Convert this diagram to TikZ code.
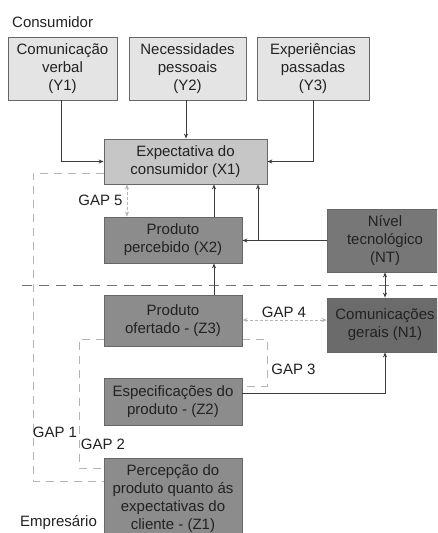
\documentclass[tikz,border=0pt]{standalone}
\usepackage{fontspec}
\setmainfont{Liberation Sans}
\usetikzlibrary{arrows.meta}
\definecolor{cLight}{HTML}{E4E4E4}
\definecolor{cMid}{HTML}{C6C6C6}
\definecolor{cDark}{HTML}{8C8C8C}
\definecolor{cDarker}{HTML}{777777}
\definecolor{cDarkest}{HTML}{6B6B6B}
\definecolor{cText}{HTML}{222222}
\definecolor{cLine}{HTML}{3C3C3C}
\definecolor{cGap}{HTML}{B4B4B4}
\begin{document}
\begin{tikzpicture}[x=1pt,y=-1pt,
  box/.style={draw=black!60, line width=0.8pt, inner sep=0pt, align=center, text=cText,
    font=\fontsize{15}{18}\selectfont},
  lbl/.style={inner sep=0pt, text=cText, font=\fontsize{15}{18}\selectfont},
  arr/.style={draw=cLine, line width=0.9pt, -{Stealth[length=5pt,width=4pt]}},
  darr/.style={draw=cLine, line width=0.9pt, {Stealth[length=5pt,width=4pt]}-{Stealth[length=5pt,width=4pt]}},
  gapline/.style={draw=cGap, line width=0.9pt, dash pattern=on 8pt off 6pt},
  gaparr/.style={draw=cGap, line width=0.9pt, dash pattern=on 3pt off 2pt,
    {Stealth[length=5pt,width=4pt]}-{Stealth[length=5pt,width=4pt]}},
  divider/.style={draw=black!55, line width=0.9pt, dash pattern=on 10pt off 7pt}]
\clip (0,0) rectangle (437,533);
\fill[white] (0,0) rectangle (437,533);

% dashed gap lines and divider
\draw[divider] (22,285) -- (437,285);
\draw[gapline] (104,173) -- (33,173) -- (33,481) -- (104,481);
\draw[gapline] (104,339) -- (79,339) -- (79,468) -- (104,468);
\draw[gapline] (242,339) -- (267,339) -- (267,386) -- (242,386);

% boxes
\node[box, fill=cLight, minimum width=109pt, minimum height=63pt] (Y1) at (62.5,68.5) {Comunicação\\verbal\\(Y1)};
\node[box, fill=cLight, minimum width=117pt, minimum height=63pt] (Y2) at (187.5,68.5) {Necessidades\\pessoais\\(Y2)};
\node[box, fill=cLight, minimum width=112pt, minimum height=63pt] (Y3) at (313,68.5) {Experiências\\passadas\\(Y3)};
\node[box, fill=cMid, minimum width=163pt, minimum height=45pt] (X1) at (185.5,161.5) {Expectativa do\\consumidor (X1)};
\node[box, fill=cDark, minimum width=138pt, minimum height=46pt] (X2) at (173,240) {Produto\\percebido (X2)};
\node[box, fill=cDarker, minimum width=116pt, minimum height=63pt] (NT) at (385,240.5) {Nível\\tecnológico\\(NT)};
\node[box, fill=cDark, minimum width=138pt, minimum height=51pt] (Z3) at (173,320.5) {Produto\\ofertado - (Z3)};
\node[box, fill=cDarkest, minimum width=116pt, minimum height=54pt] (N1) at (385,325) {Comunicações\\gerais (N1)};
\node[box, fill=cDark, minimum width=138pt, minimum height=47pt] (Z2) at (173,401.5) {Especificações do\\produto - (Z2)};
\node[box, fill=cDark, minimum width=138pt, minimum height=81pt] (Z1) at (173,498.5) {Percepção do\\produto quanto ás\\expectativas do\\cliente - (Z1)};

% labels
\node[lbl, anchor=west] (cons) at (12,22) {Consumidor};
\node[lbl, anchor=west] (emp) at (20,523) {Empresário};
\node[lbl] (g5) at (100.5,200) {GAP 5};
\node[lbl] (g4) at (284,312) {GAP 4};
\node[lbl] (g3) at (293.5,369) {GAP 3};
\node[lbl] (g1) at (55,432) {GAP 1};
\node[lbl] (g2) at (103,444) {GAP 2};

% connectors
\draw[arr] ([xshift=-1.5pt]Y1.south) |- (X1.west);
\draw[arr] ([xshift=-1.5pt]Y2.south) -- ([xshift=-1.5pt]Y2.south |- X1.north);
\draw[arr] (Y3.south) |- (X1.east);
\draw[arr] ([xshift=41pt]X2.north) -- ([xshift=41pt]X2.north |- X1.south);
\draw[arr] (NT.west) -- (NT.west -| X2.east);
\coordinate (br) at (258,240);
\draw[arr] (br) -- (br |- X1.south);
\draw[arr] ([xshift=41pt]Z3.north) -- ([xshift=41pt]Z3.north |- X2.south);
\draw[darr] (NT.south) -- (N1.north);
\draw[arr] ([yshift=8.5pt]Z2.east) -| (N1.south);
\draw[gaparr] (X1.south -| 127,0) -- (X2.north -| 127,0);
\draw[gaparr] (Z3.east |- 0,320) -- (N1.west |- 0,320);
\end{tikzpicture}
\end{document}
